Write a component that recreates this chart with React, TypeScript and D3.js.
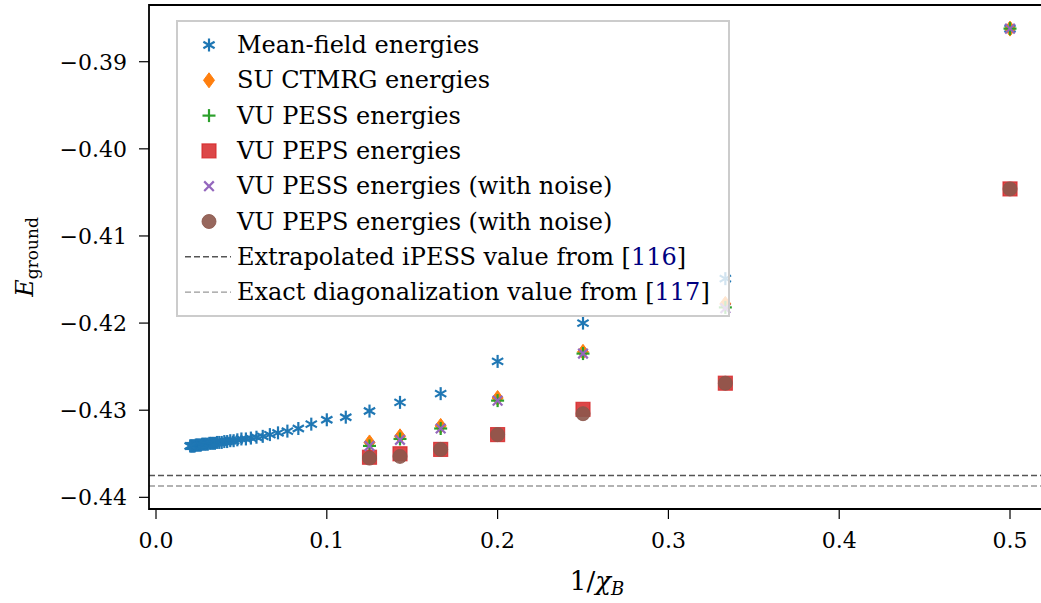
import React from "react";
import * as d3 from "d3";

const chiMeanField = [2,3,4,5,6,7,8,9,10,11,12,13,14,15,16,17,18,19,20,21,22,23,24,25,26,27,28,29,30,31,32,33,34,35,36,37,38,39,40,41,42,43,44,45,46,47,48,49,50];
const meanFieldEnergies = [
  -0.3862, -0.4149, -0.4200, -0.4244, -0.4281, -0.4291, -0.4301, -0.4308, -0.4311, -0.4316,
  -0.4321, -0.4324, -0.4326, -0.4328, -0.4330, -0.4331, -0.4332, -0.4333, -0.4333, -0.4334,
  -0.4335, -0.4335, -0.4336, -0.4336, -0.4337, -0.4337, -0.4337, -0.4338, -0.4338, -0.4338,
  -0.4338, -0.4339, -0.4339, -0.4339, -0.4339, -0.4339, -0.4340, -0.4340, -0.4340, -0.4340,
  -0.4340, -0.4340, -0.4341, -0.4341, -0.4341, -0.4341, -0.4341, -0.4341, -0.4341,
];
const chiVU = [2, 3, 4, 5, 6, 7, 8];
const suCtmrgEnergies = [-0.3862, -0.4178, -0.4233, -0.4286, -0.4318, -0.4330, -0.4337];
const vuPessEnergies = [-0.3862, -0.4182, -0.4235, -0.4289, -0.4321, -0.4333, -0.4341];
const vuPepsEnergies = [-0.4046, -0.4269, -0.4299, -0.4328, -0.4345, -0.4350, -0.4354];
const vuPessNoiseEnergies = [-0.3862, -0.4183, -0.4235, -0.4289, -0.4321, -0.4334, -0.4341];
const vuPepsNoiseEnergies = [-0.4046, -0.4269, -0.4304, -0.4328, -0.4345, -0.4353, -0.4355];
const ipessValue = -0.4375;
const edValue = -0.4387;
const xTicks = [0.0, 0.1, 0.2, 0.3, 0.4, 0.5];
const yTicks = [-0.39, -0.40, -0.41, -0.42, -0.43, -0.44];
const legendLabels = [
  "Mean-field energies",
  "SU CTMRG energies",
  "VU PESS energies",
  "VU PEPS energies",
  "VU PESS energies (with noise)",
  "VU PEPS energies (with noise)",
];
const refLabels = [
  { pre: "Extrapolated iPESS value from [", ref: "116", post: "]" },
  { pre: "Exact diagonalization value from [", ref: "117", post: "]" },
];

const W = 1041, H = 603;
const L = 149, R = 1051, T = 5, B = 509;
const FONT = "'DejaVu Serif', serif";

const C = {
  blue: "#1f77b4", orange: "#ff7f0e", green: "#2ca02c", red: "#d62728", purple: "#9467bd", brown: "#8c564b",
};

type MarkerKind = "ast" | "diamond" | "plus" | "square" | "x" | "circle";

function Marker({ kind, cx, cy }: { kind: MarkerKind; cx: number; cy: number }) {
  if (kind === "ast") {
    const r = 6.5;
    const angs = [90, 30, 150].map((a) => (a * Math.PI) / 180);
    return (
      <g stroke={C.blue} strokeWidth={2.2} strokeLinecap="butt">
        {angs.map((a, i) => (
          <line key={i} x1={cx - r * Math.cos(a)} y1={cy - r * Math.sin(a)} x2={cx + r * Math.cos(a)} y2={cy + r * Math.sin(a)} />
        ))}
      </g>
    );
  }
  if (kind === "diamond") {
    const hw = 5.5, hh = 7.5;
    return <path d={`M${cx},${cy - hh}L${cx + hw},${cy}L${cx},${cy + hh}L${cx - hw},${cy}Z`} fill={C.orange} stroke={C.orange} strokeWidth={1} />;
  }
  if (kind === "plus") {
    const r = 6.5;
    return (
      <g stroke={C.green} strokeWidth={2.2}>
        <line x1={cx - r} y1={cy} x2={cx + r} y2={cy} />
        <line x1={cx} y1={cy - r} x2={cx} y2={cy + r} />
      </g>
    );
  }
  if (kind === "square") {
    const s = 7;
    return <rect x={cx - s} y={cy - s} width={2 * s} height={2 * s} fill={C.red} fillOpacity={0.85} stroke={C.red} strokeOpacity={0.8} strokeWidth={1.2} />;
  }
  if (kind === "x") {
    const r = 4.8;
    return (
      <g stroke={C.purple} strokeWidth={2.2}>
        <line x1={cx - r} y1={cy - r} x2={cx + r} y2={cy + r} />
        <line x1={cx - r} y1={cy + r} x2={cx + r} y2={cy - r} />
      </g>
    );
  }
  return <circle cx={cx} cy={cy} r={7} fill={C.brown} fillOpacity={0.9} stroke={C.brown} strokeOpacity={0.85} strokeWidth={1} />;
}

export default function App() {
  const x = d3.scaleLinear().domain([-0.0041, 0.524]).range([L, R]);
  const y = d3.scaleLinear().domain([-0.44134, -0.38349]).range([B, T]);
  const fmtY = (v: number) => d3.format(".2f")(v).replace("-", "\u2212");
  const fmtX = d3.format(".1f");

  const series: { kind: MarkerKind; chi: number[]; vals: number[] }[] = [
    { kind: "ast", chi: chiMeanField, vals: meanFieldEnergies },
    { kind: "diamond", chi: chiVU, vals: suCtmrgEnergies },
    { kind: "plus", chi: chiVU, vals: vuPessEnergies },
    { kind: "square", chi: chiVU, vals: vuPepsEnergies },
    { kind: "x", chi: chiVU, vals: vuPessNoiseEnergies },
    { kind: "circle", chi: chiVU, vals: vuPepsNoiseEnergies },
  ];
  const legendKinds: MarkerKind[] = ["ast", "diamond", "plus", "square", "x", "circle"];
  const rowY = (i: number) => 45 + 35.3 * i;

  return (
    <svg width={W} height={H} style={{ position: "absolute", left: 0, top: 0, background: "#fff" }} fontFamily={FONT}>
      <rect x={0} y={0} width={W} height={H} fill="#fff" />
      <line x1={L} x2={R} y1={y(ipessValue)} y2={y(ipessValue)} stroke="#555" strokeWidth={1.5} strokeDasharray="6,3" />
      <line x1={L} x2={R} y1={y(edValue)} y2={y(edValue)} stroke="#999" strokeWidth={1.3} strokeDasharray="6,3" />
      {series.map((s, si) => (
        <g key={si}>
          {s.chi.map((c, i) => (
            <Marker key={i} kind={s.kind} cx={x(1 / c)} cy={y(s.vals[i])} />
          ))}
        </g>
      ))}
      <g stroke="#000" strokeWidth={1.2}>
        {yTicks.map((t) => (
          <line key={t} x1={L - 10} x2={L} y1={y(t)} y2={y(t)} />
        ))}
        {xTicks.map((t) => (
          <line key={t} x1={x(t)} x2={x(t)} y1={B} y2={B + 10} />
        ))}
      </g>
      <g fontSize={22} fill="#000">
        {yTicks.map((t) => (
          <text key={t} x={127} y={y(t) + 8} textAnchor="end">{fmtY(t)}</text>
        ))}
        {xTicks.map((t) => (
          <text key={t} x={x(t)} y={548} textAnchor="middle">{fmtX(t)}</text>
        ))}
      </g>
      <path d={`M${R},${T}H${L}V${B}H${R}`} fill="none" stroke="#000" strokeWidth={1.8} />
      <text x={597} y={590} textAnchor="middle" fontSize={26}>
        1/<tspan fontStyle="italic">χ</tspan>
        <tspan fontStyle="italic" fontSize={18} dy={5}>B</tspan>
      </text>
      <text transform={`translate(33,${(T + B) / 2}) rotate(-90)`} textAnchor="middle" fontSize={24}>
        <tspan fontStyle="italic">E</tspan>
        <tspan fontSize={17} dy={5}>ground</tspan>
      </text>
      <rect x={177} y={21} width={552} height={295} fill="#fff" fillOpacity={0.8} stroke="#ccc" strokeWidth={2} />
      {legendKinds.map((k, i) => (
        <g key={k}>
          <Marker kind={k} cx={209} cy={rowY(i)} />
          <text x={237} y={rowY(i) + 8} fontSize={24}>{legendLabels[i]}</text>
        </g>
      ))}
      {refLabels.map((r, j) => {
        const yy = rowY(6 + j);
        return (
          <g key={j}>
            <line x1={185} x2={231} y1={yy} y2={yy} stroke={j === 0 ? "#555" : "#999"} strokeWidth={j === 0 ? 1.5 : 1.3} strokeDasharray="6,3" />
            <text x={237} y={yy + 8} fontSize={24}>
              {r.pre}
              <tspan fill="#000080">{r.ref}</tspan>
              {r.post}
            </text>
          </g>
        );
      })}
    </svg>
  );
}
